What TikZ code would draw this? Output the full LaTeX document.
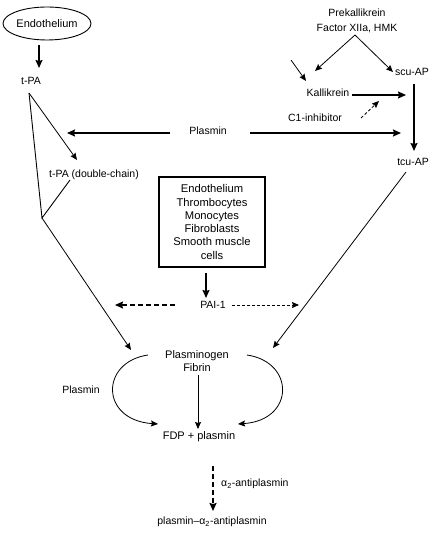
\documentclass[tikz,border=0pt]{standalone}
\usepackage{fontspec}
\setmainfont{Liberation Sans}
\usetikzlibrary{arrows.meta,shapes.geometric}
\begin{document}
\begin{tikzpicture}[x=1pt,y=-1pt,
  font=\fontsize{10.5}{12}\selectfont,
  arr/.style={-{Stealth[length=7pt,width=6pt,inset=1pt]}, line width=0.8pt},
  thickarr/.style={-{Stealth[length=8pt,width=7pt,inset=1pt]}, line width=1.6pt},
  thinline/.style={line width=0.9pt},
  dasharr/.style={-{Stealth[length=7pt,width=6pt,inset=1pt]}, line width=0.8pt, dash pattern=on 3pt off 2pt},
  thickdash/.style={-{Stealth[length=8pt,width=7pt,inset=1pt]}, line width=1.6pt, dash pattern=on 5pt off 3pt},
  txt/.style={inner sep=1pt},
  bigtxt/.style={inner sep=1pt, font=\fontsize{11}{12.5}\selectfont}]
\useasboundingbox (0,0) rectangle (434,537);
\fill[white] (0,0) rectangle (434,537);

% nodes
\node[ellipse,draw,line width=0.9pt,minimum width=88pt,minimum height=33pt,inner sep=0pt,
      font=\fontsize{11}{12}\selectfont] (endo) at (47,23.5) {Endothelium};
\node[txt] (tpa) at (31,81) {t-PA};
\node[txt] (tpadc) at (94,175) {t-PA (double-chain)};
\node[txt] (plasminT) at (208,131) {Plasmin};
\node[txt,align=center,font=\fontsize{10.5}{14.5}\selectfont] (prek) at (357,21) {Prekallikrein\\Factor XIIa, HMK};
\node[txt] (scu) at (412,72) {scu-AP};
\node[txt] (kall) at (328,93) {Kallikrein};
\node[txt] (c1) at (315,118) {C1-inhibitor};
\node[txt] (tcu) at (413,162) {tcu-AP};
\node[draw,line width=1.4pt,minimum width=106pt,minimum height=90pt,inner sep=0pt,align=center,
      font=\fontsize{11.2}{13.3}\selectfont] (box) at (212,222)
      {Endothelium\\Thrombocytes\\Monocytes\\Fibroblasts\\Smooth muscle\\cells};
\node[txt] (pai) at (213,305) {PAI-1};
\node[bigtxt,align=center] (plg) at (197,361) {Plasminogen\\Fibrin};
\node[txt] (plasminL) at (81,390) {Plasmin};
\node[bigtxt] (fdp) at (199,437) {FDP + plasmin};
\node[txt,anchor=west] (a2) at (220,484) {α\textsubscript{2}-antiplasmin};
\node[txt] (pa2) at (212,522) {plasmin–α\textsubscript{2}-antiplasmin};

% coordinates
\coordinate (endoOut) at (39,45);
\coordinate (tpaIn) at (39,68);
\coordinate (apex) at (29,93);
\coordinate (knee) at (42,218);
\coordinate (stub) at (70,180);
\coordinate (tpadcIn) at (77,160);
\coordinate (plgInL) at (131,350);
\coordinate (plOutL) at (170,133);
\coordinate (plInL) at (67,133);
\coordinate (plOutR) at (250,133);
\coordinate (plInR) at (401,133);
\coordinate (prekApex) at (355,35);
\coordinate (kallIn) at (315,71);
\coordinate (scuIn) at (393,72);
\coordinate (kallFree) at (291,60);
\coordinate (kallIn2) at (306,81);
\coordinate (kallOut) at (352,95);
\coordinate (scuLine) at (406,95);
\coordinate (c1Out) at (361,118);
\coordinate (c1In) at (379,101);
\coordinate (scuOut) at (414,84);
\coordinate (tcuIn) at (414,151);
\coordinate (tcuOut) at (406,172);
\coordinate (plgInR) at (273,348);
\coordinate (boxOut) at (206,273);
\coordinate (paiIn) at (206,298);
\coordinate (paiOutL) at (175,305);
\coordinate (paiInL) at (115,305);
\coordinate (paiOutR) at (232,305);
\coordinate (paiInR) at (299,305);
\coordinate (arcLs) at (148,355);
\coordinate (arcLe) at (158,424);
\coordinate (arcRs) at (247,355);
\coordinate (arcRe) at (238,424);
\coordinate (plgOut) at (198,375);
\coordinate (fdpIn) at (198,429);
\coordinate (fdpOut) at (213,466);
\coordinate (pa2In) at (213,511);

% connectors
\draw[thickarr] (endoOut) -- (tpaIn);
\draw[thinline] (apex) -- (knee) -- (stub);
\draw[arr] (apex) -- (tpadcIn);
\draw[arr] (knee) -- (plgInL);
\draw[thickarr] (plOutL) -- (plInL);
\draw[thickarr] (plOutR) -- (plInR);
\draw[arr] (prekApex) -- (kallIn);
\draw[arr] (prekApex) -- (scuIn);
\draw[arr] (kallFree) -- (kallIn2);
\draw[thickarr] (kallOut) -- (scuLine);
\draw[dasharr] (c1Out) -- (c1In);
\draw[thickarr] (scuOut) -- (tcuIn);
\draw[arr] (tcuOut) -- (plgInR);
\draw[thickarr] (boxOut) -- (paiIn);
\draw[thickdash] (paiOutL) -- (paiInL);
\draw[dasharr] (paiOutR) -- (paiInR);
\draw[arr] (arcLs) .. controls (100,362) and (100,420) .. (arcLe);
\draw[arr] (arcRs) .. controls (295,362) and (295,420) .. (arcRe);
\draw[arr] (plgOut) -- (fdpIn);
\draw[thickdash] (fdpOut) -- (pa2In);
\end{tikzpicture}
\end{document}
